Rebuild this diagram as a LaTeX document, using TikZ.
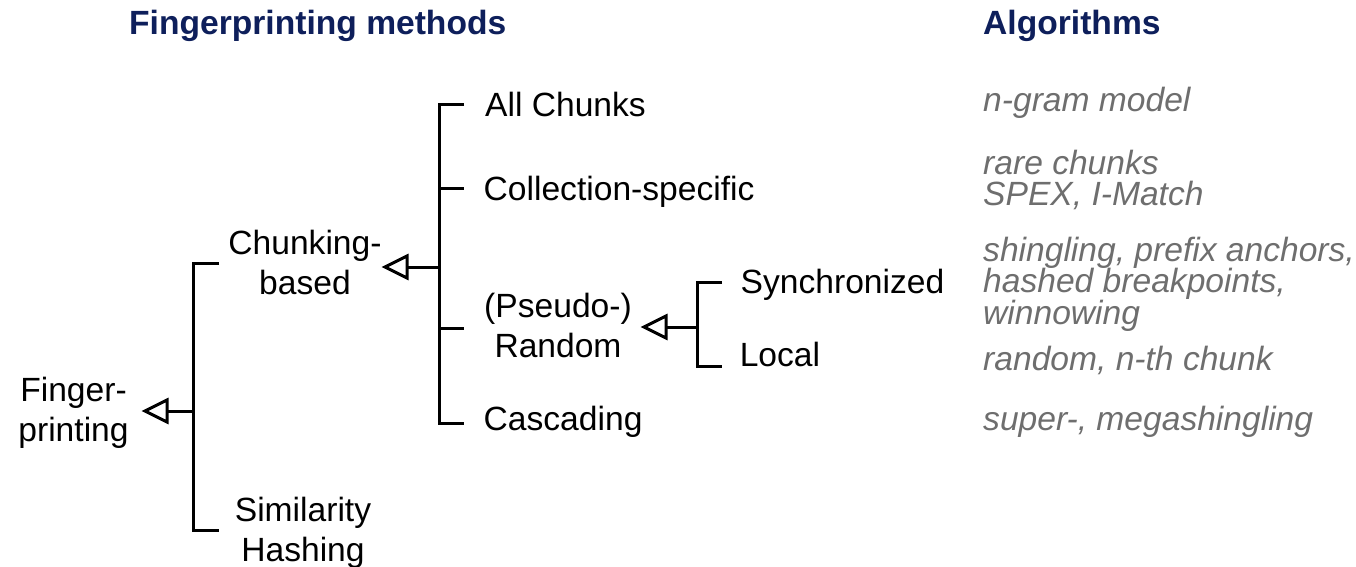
\documentclass[tikz,border=0pt]{standalone}
\usepackage{fontspec}
\setmainfont{Liberation Sans}
\definecolor{headnavy}{HTML}{0E1F5B}
\definecolor{algogrey}{HTML}{6E6E6E}
\begin{document}
\begin{tikzpicture}[x=1pt,y=-1pt,
  % multi-line nodes: the base anchor sits on the last line
  stacked/.style={inner sep=0pt, anchor=base, align=center,
    font=\fontsize{33.6}{40}\selectfont},
  leaf/.style={inner sep=0pt, anchor=base west,
    font=\fontsize{33.6}{40}\selectfont},
  algo/.style={inner sep=0pt, anchor=base west, align=left, text=algogrey,
    font=\fontsize{33.6}{31.5}\selectfont\itshape},
  heading/.style={inner sep=0pt, anchor=base west, text=headnavy,
    font=\fontsize{33.6}{40}\selectfont\bfseries},
  bracket/.style={line width=3pt, line join=miter},
  merge/.style={line width=3pt},
  opentri/.style={line width=3pt, line join=miter, fill=white},
]
\useasboundingbox (0,0) rectangle (1356,567);

% column headings
\node[heading] (hmeth) at (129,35) {Fingerprinting methods};
\node[heading] (halgo) at (983,35) {Algorithms};

% method labels
\node[stacked] (fp)  at (73.5,441.7) {Finger-\\printing};
\node[stacked] (cb)  at (305,294)    {Chunking-\\based};
\node[stacked] (sh)  at (303,561.7)  {Similarity\\Hashing};
\node[stacked] (pr)  at (558,357.7)  {(Pseudo-)\\Random};
\node[leaf] (ac)  at (485,116.5)   {All Chunks};
\node[leaf] (cs)  at (483.5,200)   {Collection-specific};
\node[leaf] (cas) at (483.5,430)   {Cascading};
\node[leaf] (syn) at (740.5,293)   {Synchronized};
\node[leaf] (loc) at (739.6,366.5) {Local};

% algorithm notes
\node[algo] (a1) at (983,112)   {n-gram model};
\node[algo] (a2) at (983,205.5) {rare chunks\\SPEX, I-Match};
\node[algo] (a3) at (983,324)   {shingling, prefix anchors,\\hashed breakpoints,\\winnowing};
\node[algo] (a4) at (983,370)   {random, n-th chunk};
\node[algo] (a5) at (983,430)   {super-, megashingling};

% bracket points
\coordinate (fpTop)  at (219,263);
\coordinate (fpBot)  at (219,530);
\coordinate (fpJ)    at (193,411);
\coordinate (fpBase) at (167,411);
\coordinate (fpTip)  at (145,411);

\coordinate (cbT1) at (464,105);
\coordinate (cbT2) at (464,188);
\coordinate (cbT3) at (464,328);
\coordinate (cbT4) at (464,423);
\coordinate (cbJ)    at (439,267);
\coordinate (cbBase) at (407,267);
\coordinate (cbTip)  at (385,267);

\coordinate (prT1) at (722,282);
\coordinate (prT2) at (722,366);
\coordinate (prJ)    at (697,327);
\coordinate (prBase) at (666,327);
\coordinate (prTip)  at (644,327);

% Fingerprinting <- Chunking-based / Similarity Hashing
\draw[bracket] (fpTop) -- (fpTop -| fpJ) -- (fpBot -| fpJ) -- (fpBot);
\draw[merge] (fpJ) -- (fpBase);
\draw[opentri] (fpTip) -- ([yshift=-11pt]fpBase) -- ([yshift=11pt]fpBase) -- cycle;

% Chunking-based <- four chunk selections
\draw[bracket] (cbT1) -- (cbT1 -| cbJ) -- (cbT4 -| cbJ) -- (cbT4);
\draw[bracket] (cbT2 -| cbJ) -- (cbT2);
\draw[bracket] (cbT3 -| cbJ) -- (cbT3);
\draw[merge] (cbJ) -- (cbBase);
\draw[opentri] (cbTip) -- ([yshift=-11pt]cbBase) -- ([yshift=11pt]cbBase) -- cycle;

% (Pseudo-) Random <- Synchronized / Local
\draw[bracket] (prT1) -- (prT1 -| prJ) -- (prT2 -| prJ) -- (prT2);
\draw[merge] (prJ) -- (prBase);
\draw[opentri] (prTip) -- ([yshift=-11pt]prBase) -- ([yshift=11pt]prBase) -- cycle;
\end{tikzpicture}
\end{document}
